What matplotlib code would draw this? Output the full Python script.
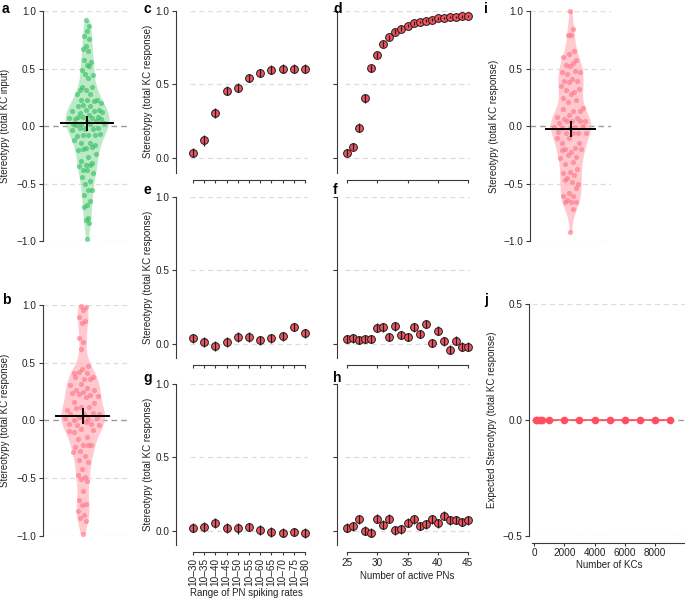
import numpy as np
import matplotlib
matplotlib.use("Agg")
import matplotlib.pyplot as plt

plt.rcParams['font.family'] = ['Liberation Sans', 'DejaVu Sans']
plt.rcParams['axes.unicode_minus'] = True

# ---------------- data ----------------
a_vals = [0.92, 0.87, 0.83, 0.78, 0.76, 0.70, 0.67, 0.65, 0.57, 0.56, 0.53, 0.49, 0.52, 0.45,
          0.44, 0.42, 0.34, 0.34, 0.31, 0.28, 0.28, 0.23, 0.23, 0.23, 0.31, 0.22, 0.18, 0.20,
          0.17, 0.17, 0.14, 0.14, 0.13, 0.13, 0.11, 0.12, 0.10, 0.06, 0.075, 0.08, 0.07, 0.07,
          0.08, 0.06, 0.04, 0.02, 0.04, 0.02, 0.03, 0.02, 0.01, -0.02, -0.03, -0.035, -0.03,
          -0.02, -0.07, -0.08, -0.09, -0.08, -0.08, -0.12, -0.145, -0.15, -0.165, -0.19, -0.21,
          -0.18, -0.20, -0.24, -0.27, -0.30, -0.32, -0.34, -0.35, -0.34, -0.38, -0.41, -0.38,
          -0.44, -0.48, -0.50, -0.56, -0.56, -0.60, -0.65, -0.69, -0.70, -0.80, -0.82, -0.84,
          -0.98]
a_mean, a_err = 0.023, 0.055

b_vals = [0.99, 0.98, 0.96, 0.90, 0.86, 0.84, 0.71, 0.68, 0.62, 0.47, 0.45, 0.41, 0.41, 0.42,
          0.38, 0.36, 0.38, 0.36, 0.32, 0.31, 0.28, 0.26, 0.26, 0.25, 0.24, 0.22, 0.23, 0.21,
          0.20, 0.16, 0.15, 0.12, 0.09, 0.12, 0.11, 0.06, 0.055, 0.06, 0.066, 0.03, 0.02, 0.01,
          0.0, 0.02, 0.03, -0.026, -0.03, -0.04, -0.035, -0.01, -0.10, -0.08, -0.07, -0.09,
          -0.14, -0.16, -0.21, -0.21, -0.23, -0.21, -0.26, -0.27, -0.31, -0.34, -0.36, -0.42,
          -0.47, -0.49, -0.51, -0.52, -0.61, -0.685, -0.72, -0.73, -0.78, -0.82, -0.84, -0.87,
          -0.98]
b_mean, b_err = 0.04, 0.06

i_vals = [1.0, 0.84, 0.79, 0.79, 0.655, 0.63, 0.60, 0.55, 0.53, 0.57, 0.52, 0.47, 0.48, 0.45,
          0.47, 0.41, 0.39, 0.39, 0.38, 0.35, 0.30, 0.31, 0.32, 0.28, 0.24, 0.23, 0.21, 0.16,
          0.13, 0.145, 0.13, 0.10, 0.075, 0.07, 0.06, 0.04, 0.045, 0.03, 0.045, 0.04, -0.005,
          -0.01, -0.02, 0.0, -0.02, -0.05, -0.06, -0.06, -0.065, -0.06, -0.145, -0.15, -0.10,
          -0.10, -0.19, -0.20, -0.20, -0.23, -0.21, -0.27, -0.25, -0.28, -0.31, -0.33, -0.37,
          -0.40, -0.41, -0.43, -0.455, -0.50, -0.49, -0.47, -0.54, -0.585, -0.61, -0.61, -0.64,
          -0.66, -0.66, -0.66, -0.725, -0.92]
i_mean, i_err = -0.026, 0.06

rate_labels = ["10\u201330", "10\u201335", "10\u201340", "10\u201345", "10\u201350", "10\u201355",
               "10\u201360", "10\u201365", "10\u201370", "10\u201375", "10\u201380"]
n_pns = list(range(25, 46))

c_vals = [0.036, 0.12, 0.304, 0.458, 0.478, 0.544, 0.578, 0.60, 0.607, 0.607, 0.607]
c_err = [0.03, 0.035, 0.035, 0.03, 0.03, 0.03, 0.03, 0.03, 0.03, 0.03, 0.03]
d_vals = [0.036, 0.077, 0.206, 0.406, 0.61, 0.70, 0.777, 0.82, 0.86, 0.88, 0.90, 0.918,
          0.925, 0.935, 0.94, 0.95, 0.953, 0.957, 0.96, 0.963, 0.966]
d_err = [0.025, 0.025, 0.03, 0.03, 0.025, 0.02, 0.02, 0.02, 0.015, 0.015, 0.012, 0.012,
         0.01, 0.01, 0.01, 0.01, 0.008, 0.008, 0.008, 0.008, 0.008]
e_vals = [0.036, 0.009, -0.014, 0.009, 0.043, 0.043, 0.023, 0.036, 0.05, 0.113, 0.07]
e_err = [0.03, 0.035, 0.035, 0.035, 0.035, 0.035, 0.03, 0.03, 0.03, 0.03, 0.03]
f_vals = [0.032, 0.036, 0.025, 0.032, 0.032, 0.107, 0.111, 0.045, 0.118, 0.059, 0.045,
          0.111, 0.066, 0.134, 0.004, 0.089, 0.016, -0.041, 0.02, -0.02, -0.02]
f_err = [0.03] * 21
g_vals = [0.02, 0.025, 0.052, 0.02, 0.016, 0.025, 0.005, -0.007, -0.014, -0.009, -0.014]
g_err = [0.03, 0.035, 0.035, 0.035, 0.035, 0.03, 0.035, 0.035, 0.03, 0.03, 0.035]
h_vals = [0.02, 0.03, 0.077, 0.0, -0.014, 0.082, 0.041, 0.082, 0.002, 0.011, 0.055, 0.077,
          0.032, 0.043, 0.077, 0.05, 0.102, 0.07, 0.073, 0.059, 0.07]
h_err = [0.03] * 21

j_kcs = [100, 200, 350, 500, 1000, 2000, 3000, 4000, 5000, 6000, 7000, 8000, 9000]
j_vals = [0.0] * 13

# ---------------- style ----------------
GREEN_FILL = '#a6e3b6'
GREEN_PT = '#2ebd5a'
RED_FILL = '#ffb7bf'
RED_PT = '#ff6f80'
RED_MK = '#f5525e'
SPINE = '#3a3a3a'
GRID = '#dcdcdc'
ZERO = '#9a9a9a'
TICK_FS = 7.2
LAB_FS = 7.0

W, H = 685, 598
fig = plt.figure(figsize=(W / 100, H / 100), dpi=100)


def add_ax(x0, y0, x1, y1):
    return fig.add_axes([x0 / W, 1 - y1 / H, (x1 - x0) / W, (y1 - y0) / H])


def base_style(ax):
    for s in ['top', 'right']:
        ax.spines[s].set_visible(False)
    for s in ['left', 'bottom']:
        ax.spines[s].set_color(SPINE)
        ax.spines[s].set_linewidth(0.8)
    ax.tick_params(axis='both', colors=SPINE, width=0.8, length=3,
                   labelsize=TICK_FS, labelcolor='#222222', pad=2)
    ax.tick_params(axis='x', length=2.5, pad=1.5)
    ax.set_facecolor('none')


def set_ylabel(ax, text, xpix):
    ax.set_ylabel(text, fontsize=LAB_FS, color='#222222')
    bb = ax.get_position()
    yc = (bb.y0 + bb.y1) / 2
    ax.yaxis.set_label_coords(xpix / W, yc, transform=fig.transFigure)


def kde(vals, grid, bw):
    v = np.asarray(vals)[:, None]
    return np.exp(-0.5 * ((grid[None, :] - v) / bw) ** 2).sum(axis=0)


def violin_panel(ax, vals, mean, err, fill, pt, center, maxw, bw):
    vals = np.asarray(vals)
    grid = np.linspace(vals.min(), vals.max(), 300)
    dens = kde(vals, grid, bw)
    half = dens / dens.max() * maxw
    ax.fill_betweenx(grid, center - half, center + half, color=fill, alpha=0.75,
                     lw=0, zorder=1)
    # deterministic spread of the points inside the violin
    dpt = kde(vals, vals, bw) / dens.max() * maxw
    k = np.arange(len(vals))
    u = ((k * 0.6180339887 + 0.3) % 1.0) * 2 - 1
    ax.scatter(center + u * dpt * 0.85, vals, s=14, color=pt, alpha=0.6,
               lw=0, zorder=2, clip_on=False)
    ax.plot([center - 0.6, center + 0.6], [mean, mean], color='black', lw=1.4, zorder=4)
    ax.plot([center, center], [mean - err, mean + err], color='black', lw=1.4, zorder=4)
    ax.set_ylim(-1.0, 1.0)
    ax.set_xticks([])
    ax.spines['bottom'].set_visible(False)
    ax.set_yticks([-1.0, -0.5, 0.0, 0.5, 1.0])
    for yv in [-1.0, -0.5, 0.5, 1.0]:
        ax.axhline(yv, color=GRID, lw=0.9, ls=(0, (4, 3)), zorder=0)
    ax.axhline(0, color=ZERO, lw=1.0, ls=(0, (4, 3)), zorder=0)


def dot_panel(ax, x, vals, err, xlim, xbounds, left_out, ylabels=True):
    ax.set_xlim(*xlim)
    ax.set_ylim(-0.1, 1.0)
    for yv in [0.0, 0.5, 1.0]:
        ax.axhline(yv, color=GRID, lw=0.9, ls=(0, (4, 3)), zorder=0)
    ax.plot(x, vals, 'o', ms=5.6, mfc=RED_MK, mec='#1a1a1a', mew=0.7, zorder=3,
            clip_on=False)
    v = np.asarray(vals)
    e = np.asarray(err)
    ax.vlines(x, v - e, v + e, color='#1a1a1a', lw=0.9, zorder=4)
    ax.spines['left'].set_position(('outward', left_out))
    ax.spines['bottom'].set_position(('outward', 5))
    ax.spines['bottom'].set_bounds(*xbounds)
    ax.set_yticks([0.0, 0.5, 1.0])
    if not ylabels:
        ax.set_yticklabels([])


def panel_letter(x, y, t):
    fig.text(x / W, 1 - y / H, t, fontsize=10, fontweight='bold', ha='left', va='center')


# ---- a ----
ax_a = add_ax(43, 11, 131, 241)
base_style(ax_a)
ax_a.set_xlim(-1, 1)
violin_panel(ax_a, a_vals, a_mean, a_err, GREEN_FILL, GREEN_PT, 0.0, 0.5, 0.1)
set_ylabel(ax_a, 'Stereotypy (total KC input)', 10)

# ---- b ----
ax_b = add_ax(43, 305, 131, 536)
base_style(ax_b)
ax_b.set_xlim(-0.9, 1.1)
violin_panel(ax_b, b_vals, b_mean, b_err, RED_FILL, RED_PT, 0.0, 0.5, 0.1)
set_ylabel(ax_b, 'Stereotypy (total KC response)', 10)

# ---- i ----
ax_i = add_ax(530, 11, 611, 241)
base_style(ax_i)
ax_i.set_xlim(-1, 1)
violin_panel(ax_i, i_vals, i_mean, i_err, RED_FILL, RED_PT, 0.0, 0.5, 0.1)
set_ylabel(ax_i, 'Stereotypy (total KC response)', 499)

# ---- c..h ----
xr = np.arange(len(rate_labels))
rows = [(11, 172.7), (196.7, 358.3), (384, 545.4)]
left_sets = [(c_vals, c_err), (e_vals, e_err), (g_vals, g_err)]
right_sets = [(d_vals, d_err), (f_vals, f_err), (h_vals, h_err)]
for r, (y0, y1) in enumerate(rows):
    axl = add_ax(190, y0, 308, y1)
    base_style(axl)
    dot_panel(axl, xr, left_sets[r][0], left_sets[r][1], (-0.25, 10.25), (0, 10), 10)
    axl.set_xticks(xr)
    set_ylabel(axl, 'Stereotypy (total KC response)', 153)
    axr = add_ax(345, y0, 470, y1)
    base_style(axr)
    dot_panel(axr, n_pns, right_sets[r][0], right_sets[r][1], (24.6, 45.4), (25, 45), 6,
              ylabels=False)
    axr.set_xticks([25, 30, 35, 40, 45])
    if r < 2:
        axl.set_xticklabels([])
        axr.set_xticklabels([])
    else:
        axl.set_xticklabels(rate_labels, rotation=90)
        axl.set_xlabel('Range of PN spiking rates', fontsize=LAB_FS, color='#222222')
        axl.xaxis.set_label_coords(246 / W, 1 - 587.5 / H, transform=fig.transFigure)
        axr.set_xlabel('Number of active PNs', fontsize=LAB_FS, color='#222222')
        axr.xaxis.set_label_coords(407 / W, 1 - 571 / H, transform=fig.transFigure)

# ---- j ----
ax_j = add_ax(532, 304.3, 685, 536)
base_style(ax_j)
ax_j.set_xlim(-150, 10000)
ax_j.set_ylim(-0.5, 0.5)
ax_j.spines['left'].set_position(('outward', 2))
ax_j.spines['bottom'].set_position(('outward', 5))
for yv in [-0.5, 0.5]:
    ax_j.axhline(yv, color=GRID, lw=0.9, ls=(0, (4, 3)), zorder=0)
ax_j.axhline(0, color=ZERO, lw=1.0, ls=(0, (4, 3)), zorder=0)
ax_j.plot(j_kcs, j_vals, '-o', color='#ff4f5f', ms=4.5, lw=1.2, zorder=3)
ax_j.set_yticks([-0.5, 0.0, 0.5])
ax_j.set_xticks([0, 2000, 4000, 6000, 8000])
ax_j.set_xlabel('Number of KCs', fontsize=LAB_FS, color='#222222')
ax_j.xaxis.set_label_coords(609 / W, 1 - 560 / H, transform=fig.transFigure)
set_ylabel(ax_j, 'Expected Stereotypy (total KC response)', 497)

# ---- panel letters ----
for (x, y, t) in [(2, 9, 'a'), (2, 300, 'b'), (143, 9, 'c'), (333, 9, 'd'),
                  (143, 190, 'e'), (333, 190, 'f'), (143, 378, 'g'), (333, 378, 'h'),
                  (484, 9, 'i'), (484, 300, 'j')]:
    panel_letter(x, y, t)

fig.savefig('out.png', dpi=100)
